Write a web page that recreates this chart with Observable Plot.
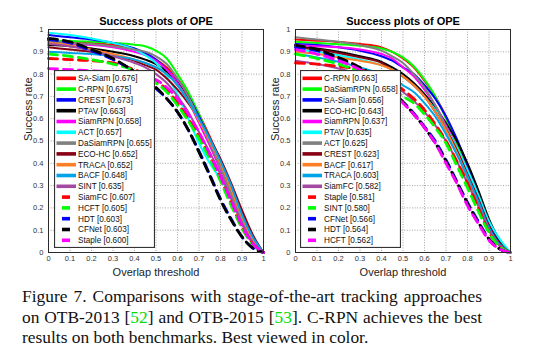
<!DOCTYPE html>
<html>
<head>
<meta charset="utf-8">
<script src="https://cdn.jsdelivr.net/npm/d3@7"></script>
<script src="https://cdn.jsdelivr.net/npm/@observablehq/plot@0.6"></script>
<style>
  body { margin: 0; background: #fff; }
  #wrap { position: relative; width: 554px; height: 360px; overflow: hidden; font-family: Arial, "Liberation Sans", sans-serif; }
  .panel { position: absolute; top: 0; }
  .legend { position: absolute; }
  #caption { position: absolute; left: 22px; top: 286px; width: 460px; font-family: "Liberation Serif", "Times New Roman", serif; font-size: 17.4px; line-height: 20.5px; color: #111; }
  #caption .j { text-align: justify; text-align-last: justify; white-space: nowrap; }
  #caption .ref { color: #00dd00; }
</style>
</head>
<body>
<div id="wrap">
  <div id="p1" class="panel" style="left:0px"></div>
  <div id="p2" class="panel" style="left:266px"></div>
  <div id="caption">
    <div class="j">Figure 7. Comparisons with stage-of-the-art tracking approaches</div>
    <div class="j">on OTB-2013 [<span class="ref">52</span>] and OTB-2015 [<span class="ref">53</span>]. C-RPN achieves the best</div>
    <div>results on both benchmarks. Best viewed in color.</div>
  </div>
</div>
<script>
// ---------- data ----------
const thresholds = [0, 0.1, 0.2, 0.3, 0.4, 0.45, 0.5, 0.55, 0.6, 0.65, 0.7, 0.75, 0.8, 0.85, 0.9, 0.95, 1];
const tickValues = [0, 0.1, 0.2, 0.3, 0.4, 0.5, 0.6, 0.7, 0.8, 0.9, 1];

const names2013 = ["SA-Siam", "C-RPN", "CREST", "PTAV", "SiamRPN", "ACT", "DaSiamRPN", "ECO-HC", "TRACA", "BACF", "SINT", "SiamFC", "HCFT", "HDT", "CFNet", "Staple"];
const auc2013 = ["0.676", "0.675", "0.673", "0.663", "0.658", "0.657", "0.655", "0.652", "0.652", "0.648", "0.635", "0.607", "0.605", "0.603", "0.603", "0.600"];
const curves2013 = [
  [.95, .945, .94, .93, .91, .89, .865, .83, .78, .71, .62, .52, .41, .29, .17, .07, 0],
  [.95, .948, .945, .94, .932, .925, .905, .87, .80, .72, .62, .51, .40, .28, .16, .06, 0],
  [.975, .965, .955, .94, .915, .895, .865, .82, .765, .70, .61, .51, .41, .29, .165, .065, 0],
  [.93, .925, .915, .90, .88, .865, .845, .81, .76, .69, .60, .50, .39, .27, .15, .055, 0],
  [.94, .935, .93, .92, .90, .885, .86, .82, .76, .68, .58, .48, .37, .25, .13, .04, 0],
  [.985, .975, .96, .94, .91, .885, .85, .79, .71, .60, .49, .40, .33, .25, .14, .05, 0],
  [.945, .94, .935, .925, .91, .90, .88, .845, .78, .70, .60, .49, .38, .26, .14, .05, 0],
  [.92, .91, .90, .88, .86, .84, .82, .78, .73, .67, .60, .51, .42, .31, .19, .08, 0],
  [.94, .93, .91, .89, .865, .85, .83, .80, .75, .68, .59, .50, .40, .28, .16, .06, 0],
  [.90, .895, .89, .88, .865, .85, .83, .80, .75, .68, .60, .51, .41, .30, .17, .07, 0],
  [.935, .925, .905, .88, .85, .83, .80, .76, .70, .63, .54, .45, .35, .24, .13, .045, 0],
  [.87, .865, .86, .85, .82, .80, .77, .73, .67, .60, .52, .43, .33, .22, .11, .04, 0],
  [.89, .88, .865, .845, .815, .79, .76, .72, .66, .59, .51, .42, .32, .21, .11, .035, 0],
  [.955, .94, .905, .865, .81, .77, .735, .69, .63, .55, .455, .35, .24, .15, .07, .02, 0],
  [.96, .945, .91, .87, .81, .775, .74, .69, .63, .55, .45, .345, .235, .145, .07, .02, 0],
  [.825, .82, .815, .81, .80, .79, .775, .74, .69, .62, .54, .44, .34, .23, .12, .04, 0]
];

const names2015 = ["C-RPN", "DaSiamRPN", "SA-Siam", "ECO-HC", "SiamRPN", "PTAV", "ACT", "CREST", "BACF", "TRACA", "SiamFC", "Staple", "SINT", "CFNet", "HDT", "HCFT"];
const auc2015 = ["0.663", "0.658", "0.656", "0.643", "0.637", "0.635", "0.625", "0.623", "0.617", "0.603", "0.582", "0.581", "0.580", "0.566", "0.564", "0.562"];
const curves2015 = [
  [.955, .95, .944, .935, .92, .90, .87, .83, .77, .70, .61, .50, .37, .24, .12, .04, 0],
  [.945, .94, .934, .927, .915, .90, .875, .835, .775, .70, .60, .49, .36, .23, .11, .035, 0],
  [.935, .93, .92, .905, .88, .86, .83, .80, .75, .69, .61, .51, .39, .26, .13, .045, 0],
  [.925, .915, .90, .88, .855, .83, .80, .76, .71, .65, .58, .50, .40, .28, .15, .055, 0],
  [.93, .925, .92, .91, .89, .87, .83, .79, .73, .66, .57, .47, .35, .23, .11, .03, 0],
  [.91, .90, .885, .865, .84, .82, .79, .75, .70, .64, .56, .47, .37, .26, .14, .06, 0],
  [.965, .955, .945, .93, .905, .88, .85, .80, .74, .66, .56, .45, .33, .21, .10, .03, 0],
  [.92, .91, .895, .875, .85, .82, .79, .75, .70, .63, .55, .46, .35, .24, .12, .04, 0],
  [.90, .89, .875, .86, .84, .82, .79, .75, .70, .63, .55, .45, .34, .22, .10, .03, 0],
  [.89, .875, .855, .83, .80, .78, .75, .72, .67, .61, .53, .44, .34, .23, .11, .035, 0],
  [.86, .845, .825, .80, .77, .75, .72, .68, .63, .57, .50, .41, .31, .21, .10, .03, 0],
  [.85, .845, .835, .82, .79, .765, .73, .69, .64, .575, .50, .41, .31, .20, .09, .025, 0],
  [.89, .87, .845, .81, .765, .74, .70, .67, .62, .56, .49, .39, .29, .185, .09, .025, 0],
  [.92, .905, .87, .825, .765, .72, .675, .625, .565, .50, .415, .32, .225, .14, .06, .015, 0],
  [.93, .91, .875, .83, .77, .725, .675, .62, .56, .49, .41, .315, .22, .135, .06, .015, 0],
  [.91, .89, .86, .82, .76, .72, .67, .62, .56, .49, .40, .31, .21, .13, .055, .015, 0]
];

// ---------- styles ----------
const rankColors = ["#ff0000", "#00ff00", "#0000ff", "#000000", "#ff00ff", "#00ffff", "#808080", "#880015", "#ff7f27", "#00a2e8", "#a349a4", "#ff0000", "#00ff00", "#0000ff", "#000000", "#ff00ff"];
const rankDashed = [false, false, false, false, false, false, false, false, false, false, false, true, true, true, true, true];

function panel(el, names, auc, curves, opts) {
  const rows = [];
  curves.forEach((vals, i) => vals.forEach((v, j) => rows.push({k: i, name: names[i], x: thresholds[j], y: v})));
  const lineMarks = curves.map((_, i) => Plot.line(rows.filter(r => r.k === i), {
    x: "x", y: "y",
    stroke: rankColors[i],
    strokeWidth: rankDashed[i] ? 2.8 : 2,
    strokeDasharray: rankDashed[i] ? "9,6" : null,
    curve: "monotone-x"
  }));
  const chart = Plot.plot({
    width: opts.width, height: 285,
    marginLeft: opts.marginLeft, marginRight: opts.marginRight, marginTop: 29, marginBottom: 33,
    style: {fontFamily: "Arial, 'Liberation Sans', sans-serif", fontSize: "7.5px", color: "#333", background: "white"},
    x: {domain: [0, 1], ticks: tickValues, tickSize: 0, tickPadding: 3, tickFormat: d => String(d), label: null},
    y: {domain: [0, 1], ticks: tickValues, tickSize: 0, tickPadding: 5, tickFormat: d => String(d), label: null},
    marks: [
      Plot.gridX(tickValues, {stroke: "#8a8a8a", strokeOpacity: 1, strokeWidth: 0.8, strokeDasharray: "1,1.6"}),
      Plot.gridY(tickValues, {stroke: "#8a8a8a", strokeOpacity: 1, strokeWidth: 0.8, strokeDasharray: "1,1.6"}),
      ...lineMarks,
      Plot.frame({stroke: "#2a2a2a", strokeWidth: 1}),
      Plot.text(["Success plots of OPE"], {text: d => d, frameAnchor: "top", lineAnchor: "middle", dy: -8.5, fontSize: 11, fontWeight: "bold", fill: "#000"}),
      Plot.text(["Overlap threshold"], {text: d => d, frameAnchor: "bottom", lineAnchor: "middle", dy: 20, fontSize: 11, fill: "#222"}),
      Plot.text(["Success rate"], {text: d => d, frameAnchor: "left", rotate: -90, dx: -20, fontSize: 11, fill: "#222"})
    ]
  });
  el.appendChild(chart);

  // legend overlay
  const lg = d3.select("#wrap").append("svg")
    .attr("class", "legend")
    .style("left", opts.legendLeft + "px").style("top", "70px")
    .attr("width", 101).attr("height", 178);
  lg.append("rect").attr("x", 0.5).attr("y", 0.5).attr("width", 100).attr("height", 177)
    .attr("fill", "#fff").attr("stroke", "#333").attr("stroke-width", 1.2);
  names.forEach((n, i) => {
    const yy = 8.3 + i * 10.8;
    const g = lg.append("g");
    if (rankDashed[i]) {
      g.append("line").attr("x1", 8).attr("x2", 16).attr("y1", yy).attr("y2", yy)
        .attr("stroke", rankColors[i]).attr("stroke-width", 3.6);
    } else {
      g.append("line").attr("x1", 2.5).attr("x2", 22).attr("y1", yy).attr("y2", yy)
        .attr("stroke", rankColors[i]).attr("stroke-width", 3.6);
    }
    g.append("text").attr("x", 24).attr("y", yy).attr("dy", "0.35em")
      .attr("font-size", 8.2).attr("font-family", "Arial, 'Liberation Sans', sans-serif").attr("fill", "#111")
      .text(`${n} [${auc[i]}]`);
  });
}

panel(document.getElementById("p1"), names2013, auc2013, curves2013, {width: 266, marginLeft: 48, marginRight: 3, legendLeft: 54});
panel(document.getElementById("p2"), names2015, auc2015, curves2015, {width: 288, marginLeft: 29, marginRight: 44, legendLeft: 300});
</script>
</body>
</html>
